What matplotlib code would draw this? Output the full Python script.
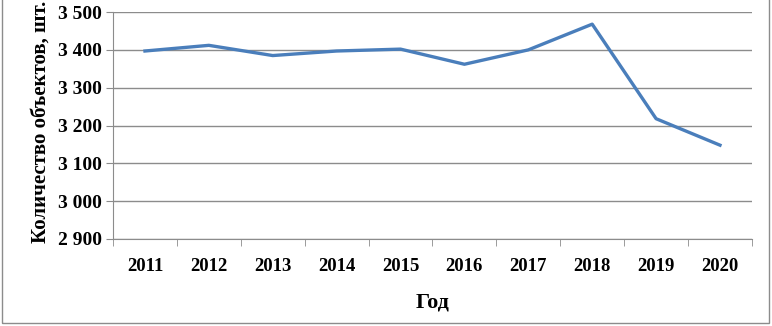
import matplotlib.pyplot as plt
from matplotlib.patches import Rectangle
from matplotlib.ticker import FuncFormatter, FixedLocator, NullFormatter

years = ['2011', '2012', '2013', '2014', '2015', '2016', '2017', '2018', '2019', '2020']
counts = [3397, 3412, 3385, 3397, 3402, 3362, 3400, 3468, 3218, 3148]

plt.rcParams['font.family'] = ['Liberation Serif', 'DejaVu Serif']
plt.rcParams['font.weight'] = 'bold'

fig = plt.figure(figsize=(7.72, 3.26), dpi=100)
ax = fig.add_axes([0.1464, 0.267, 0.8276, 0.696])

x = list(range(len(years)))
ax.plot(x, counts, color='#4a7ebb', linewidth=2.4, solid_joinstyle='round')

ax.set_xlim(-0.5, len(years) - 0.5)
ax.set_ylim(2900, 3500)
ax.set_yticks(range(2900, 3501, 100))
ax.yaxis.set_major_formatter(FuncFormatter(lambda v, p: f'{int(v):,}'.replace(',', ' ')))
ax.grid(axis='y', color='#8c8c8c', linewidth=1)
ax.set_axisbelow(True)

ax.set_xticks(x)
ax.set_xticklabels(years)
ax.xaxis.set_minor_locator(FixedLocator([i - 0.5 for i in range(len(years) + 1)]))
ax.xaxis.set_minor_formatter(NullFormatter())
ax.tick_params(axis='x', which='major', length=0, pad=14, labelsize=13.5)
ax.tick_params(axis='x', which='minor', length=5, color='#8c8c8c', direction='out')
ax.tick_params(axis='y', length=5, color='#8c8c8c', labelsize=14, pad=3)

for s in ['top', 'right']:
    ax.spines[s].set_visible(False)
for s in ['left', 'bottom']:
    ax.spines[s].set_color('#8c8c8c')

ax.set_xlabel('Год', fontsize=16, fontweight='bold', labelpad=12)
ax.set_ylabel('Количество объектов, шт.', fontsize=15, fontweight='bold', va='center')
ax.yaxis.set_label_coords(-0.114, 0.515)

fig.patches.append(Rectangle((0.003, 0.008), 0.993, 1.1, transform=fig.transFigure,
                             fill=False, edgecolor='#8c8c8c', linewidth=1))

fig.savefig('out.png', dpi=100)
